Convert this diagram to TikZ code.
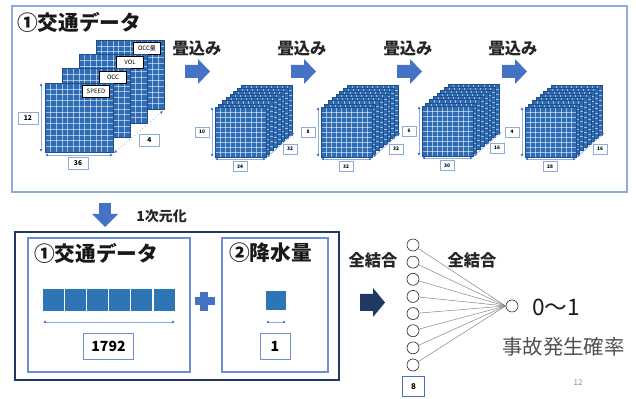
\documentclass[tikz,border=0pt]{standalone}
\usepackage{fontspec}
\setmainfont{Noto Sans CJK JP}
\usetikzlibrary{arrows.meta}
\definecolor{gridblue}{HTML}{2E6BB5}
\definecolor{griddark}{HTML}{1F4E88}
\definecolor{lightblue}{HTML}{8FAADC}
\definecolor{midblue}{HTML}{6D8FD1}
\definecolor{accent}{HTML}{4472C4}
\definecolor{navy}{HTML}{203864}
\definecolor{sqblue}{HTML}{2E75B6}
\definecolor{txtgray}{HTML}{505050}

\newcommand\gridlayer[5]{%
  \fill[gridblue] (#1,#2) rectangle ++(#3,#4);
  \foreach \k in {1,...,#5}{%
    \draw[gridline] ({#1+\k*#3/(#5+1)},#2) -- ++(0,#4);
    \draw[gridline] (#1,{#2+\k*#4/(#5+1)}) -- ++(#3,0);}
  \draw[griddark, line width=0.4pt] (#1,#2) rectangle ++(#3,#4);
}
% right block arrow: left x, center y, color, body half, head half
\newcommand\rblock[5]{%
  \fill[#3] (#1,{#2-#4}) -- ++(13,0) -- ({#1+13},{#2-#5}) -- ({#1+25},#2)
    -- ({#1+13},{#2+#5}) -- ({#1+13},{#2+#4}) -- (#1,{#2+#4}) -- cycle;}
% small stack: id, fx, fy, left, bottom, right
\newcommand\smallstack[6]{%
  \foreach \L in {7,6,...,0}{\gridlayer{#2+\L*26/7}{#3-\L*22/7}{51}{50}{9}}
  \draw[dimline] ({#2-3},#3) -- ({#2-3},{#3+50});
  \draw[dimline] (#2,{#3+52}) -- ({#2+51},{#3+52});
  \draw[dimline] ({#2+52},{#3+50}) -- ({#2+79},{#3+26});
  \node[sdim] (#1l) at ({#2-13},{#3+25}) {#4};
  \node[sdim] (#1b) at ({#2+25},{#3+59.5}) {#5};
  \node[sdim] (#1r) at ({#2+75},{#3+42}) {#6};
}

\begin{document}
\begin{tikzpicture}[x=0.75pt,y=-0.75pt,
  gridline/.style={white, opacity=0.55, line width=0.3pt},
  dimline/.style={lightblue, line width=0.5pt, {Latex[length=2.2pt,width=2.2pt,color=accent]}-{Latex[length=2.2pt,width=2.2pt,color=accent]}},
  bdim/.style={draw=lightblue, fill=white, line width=0.6pt, inner sep=0pt, minimum width=15pt, minimum height=9pt, font=\bfseries\fontsize{5}{6}\selectfont},
  sdim/.style={draw=lightblue, fill=white, line width=0.5pt, inner sep=0pt, minimum width=10.5pt, minimum height=7.5pt, font=\bfseries\fontsize{3.6}{4}\selectfont},
  layerlab/.style={draw=black, fill=white, line width=0.5pt, inner sep=0pt, minimum width=20.5pt, minimum height=9pt, font=\fontsize{4.5}{5}\selectfont, anchor=north east},
  bigtitle/.style={font=\bfseries\fontsize{15.5}{18}\selectfont, text=black!90, inner sep=0pt},
  convlab/.style={font=\bfseries\fontsize{12.2}{14}\selectfont, text=black!85, inner sep=0pt},
  numbox/.style={draw=midblue, fill=white, line width=0.6pt, inner sep=0pt, minimum height=19.5pt, font=\bfseries\fontsize{10.5}{12}\selectfont},
  neuron/.style={circle, draw=black!80, fill=white, line width=0.5pt, minimum size=9pt, inner sep=0pt},
  netline/.style={draw=black!50, line width=0.35pt}
]
\useasboundingbox (0,0) rectangle (636,399);

% ---------- top panel ----------
\draw[lightblue, line width=1pt] (12,6) rectangle (627,192);
\node[bigtitle, anchor=west] (t1) at (17,22) {①交通データ};

% big stack
\foreach \L/\lab in {3/OCC量,2/VOL,1/OCC,0/SPEED}{%
  \gridlayer{45+\L*17}{83-\L*14.3}{68}{69}{11}
  \node[layerlab] (lab\L) at ({45+\L*17+65},{83-\L*14.3+2}) {\lab};
}
\draw[dimline] (41,83) -- (41,152);
\draw[dimline] (45,155) -- (113,155);
\draw[lightblue, line width=0.6pt, dotted, {Latex[length=2.2pt,width=2.2pt,color=accent]}-{Latex[length=2.2pt,width=2.2pt,color=accent]}] (114,153) -- (163,111);
\node[bdim] (d12) at (28,118) {12};
\node[bdim] (d36) at (78,163) {36};
\node[bdim] (d4) at (149.5,140) {4};

% conv arrows and labels
\node[convlab] (c1) at (197,48) {畳込み};
\node[convlab] (c2) at (302,48) {畳込み};
\node[convlab] (c3) at (408,48) {畳込み};
\node[convlab] (c4) at (513,48) {畳込み};
\rblock{185}{71.5}{accent}{6.5}{12.5}
\rblock{291}{71.5}{accent}{6.5}{12.5}
\rblock{397}{71.5}{accent}{6.5}{12.5}
\rblock{502}{71.5}{accent}{6.5}{12.5}

% small stacks
\smallstack{sa}{215}{107}{10}{34}{32}
\smallstack{sb}{321}{107}{8}{32}{32}
\smallstack{sc}{422}{106}{6}{30}{16}
\smallstack{sd}{525}{107}{4}{28}{16}

% ---------- flatten arrow ----------
\fill[accent] (99,203) rectangle (111,214.5);
\fill[accent] (92,214) -- (118,214) -- (105,227) -- cycle;
\node[font=\bfseries\fontsize{10.5}{12}\selectfont, anchor=west, inner sep=0pt, text=black!85] (flat) at (136,216) {1次元化};

% ---------- bottom panel ----------
\draw[navy, line width=1.4pt] (15,232) rectangle (339,380);
\draw[midblue, line width=0.8pt] (28,238) rectangle (190,372);
\draw[midblue, line width=0.8pt] (222,238) rectangle (328,372);
\node[bigtitle, anchor=west] (t2) at (34,253) {①交通データ};
\node[bigtitle, anchor=west] (t3) at (229,253) {②降水量};

\foreach \i in {0,...,5}{\fill[sqblue] ({43+\i*22.1},289) rectangle ++(21,22);}
\draw[dimline] (43,322) -- (175,322);
\node[numbox, minimum width=38pt] (n1792) at (108.5,346) {1792};

\fill[sqblue] (266,291) rectangle (286,310);
\draw[dimline] (266,322) -- (286,322);
\node[numbox, minimum width=22.5pt] (n1) at (275,346) {1};

% plus
\fill[accent] (195,297) rectangle (215,305);
\fill[accent] (200,292) rectangle (208,311);

% ---------- network ----------
\node[font=\bfseries\fontsize{12.2}{14}\selectfont, inner sep=0pt, text=black!85] (fc1) at (373,260) {全結合};
\rblock{360}{302.5}{navy}{8.5}{14.5}
\foreach \i in {1,...,8}{\node[neuron] (h\i) at (413,{245+(\i-1)*17.14}) {};}
\node[neuron] (out) at (512,306) {};
\foreach \i in {1,...,8}{\draw[netline] (h\i) -- (out.west);}
\node[font=\bfseries\fontsize{12.2}{14}\selectfont, inner sep=0pt, text=black!85] (fc2) at (472,260) {全結合};
\node[draw=accent, fill=white, line width=0.6pt, minimum width=17pt, minimum height=15.5pt, inner sep=0pt, font=\bfseries\fontsize{6}{7}\selectfont] (n8) at (413.5,386.5) {8};

\node[anchor=west, inner sep=0pt, font=\fontsize{17}{20}\selectfont, text=black!90] (range) at (532,307) {0〜1};
\node[inner sep=0pt, font=\fontsize{15.3}{18}\selectfont, text=txtgray] (prob) at (563.5,347) {事故発生確率};
\node[inner sep=0pt, font=\fontsize{6}{7}\selectfont, text=black!45] (pg) at (578,383) {12};
\end{tikzpicture}
\end{document}
